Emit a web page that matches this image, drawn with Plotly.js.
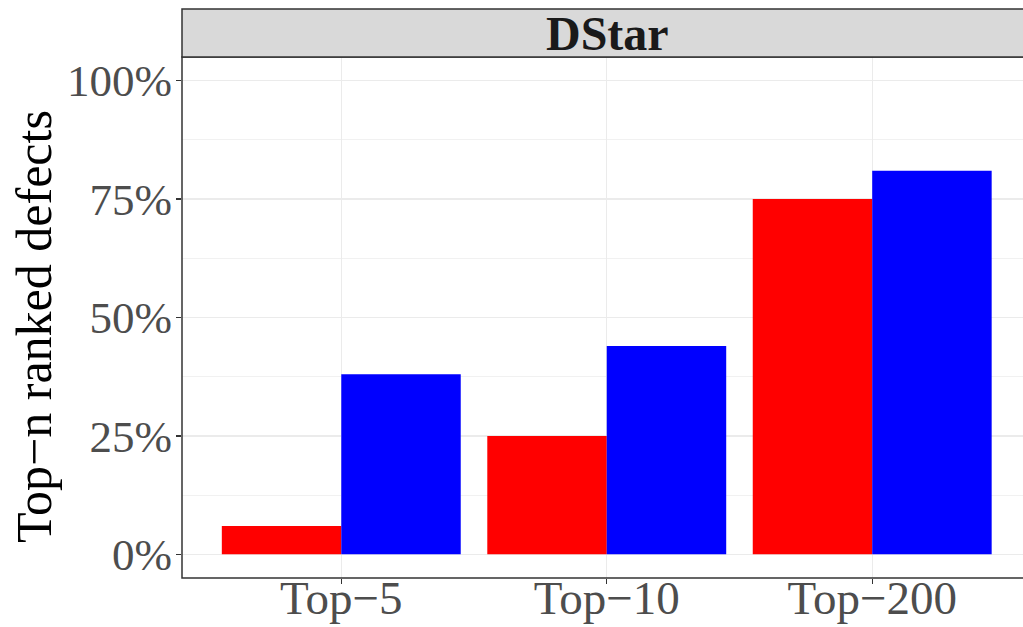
<!DOCTYPE html>
<html>
<head>
<meta charset="utf-8">
<script src="https://cdn.plot.ly/plotly-3.0.1.min.js"></script>
<style>html,body{margin:0;padding:0;background:#fff;}#chart{width:1023px;height:627px;}</style>
</head>
<body>
<div id="chart"></div>
<script>
var categories = ["Top\u22125", "Top\u221210", "Top\u2212200"];
var seriesRed = [0.06, 0.25, 0.75];
var seriesBlue = [0.38, 0.44, 0.81];
var yTickVals = [0, 0.25, 0.5, 0.75, 1.0];
var yTickText = ["0%", "25%", "50%", "75%", "100%"];
var panelTitle = "DStar";
var yTitle = "Top\u2212n ranked defects";

var font = "Liberation Serif, Times New Roman, serif";

var traces = [
  {type: "bar", x: categories, y: seriesRed, marker: {color: "#ff0000", line: {width: 0}}, hoverinfo: "skip", showlegend: false},
  {type: "bar", x: categories, y: seriesBlue, marker: {color: "#0000ff", line: {width: 0}}, hoverinfo: "skip", showlegend: false}
];

var layout = {
  width: 1023, height: 627,
  margin: {l: 182, r: 0, t: 57, b: 49},
  paper_bgcolor: "#ffffff", plot_bgcolor: "#ffffff",
  barmode: "group", bargap: 0.1, bargroupgap: 0,
  showlegend: false,
  font: {family: font, color: "#4d4d4d"},
  xaxis: {
    type: "category",
    range: [-0.6, 2.568],
    showgrid: true, gridcolor: "#ebebeb", gridwidth: 1.2,
    ticks: "outside", ticklen: 5, tickcolor: "#333333", tickwidth: 1.2,
    tickfont: {family: font, size: 47, color: "#4d4d4d"},
    ticklabelstandoff: -26,
    showline: false, zeroline: false
  },
  yaxis: {
    range: [-0.05, 1.05],
    tickvals: yTickVals, ticktext: yTickText,
    showgrid: true, gridcolor: "#ebebeb", gridwidth: 1.2,
    minor: {dtick: 0.125, tick0: 0.125, showgrid: true, gridcolor: "#ebebeb", gridwidth: 0.7, ticks: ""},
    ticks: "outside", ticklen: 5, tickcolor: "#333333", tickwidth: 1.2,
    tickfont: {family: font, size: 45, color: "#4d4d4d"},
    ticklabelstandoff: -5,
    showline: false, zeroline: false
  },
  shapes: [
    {type: "rect", xref: "paper", yref: "paper", x0: 0, x1: 1.05, y0: 0, y1: 1, line: {color: "#333333", width: 1.5}, fillcolor: "rgba(0,0,0,0)", layer: "above"},
    {type: "rect", xref: "paper", yref: "paper", x0: 0, x1: 1.05, y0: 1, y1: 1 + 48/521, line: {color: "#333333", width: 1.5}, fillcolor: "#d9d9d9", layer: "above"}
  ],
  annotations: [
    {text: "<b>" + panelTitle + "</b>", xref: "paper", yref: "paper", x: 0.5054, y: 1 + 24/521, xanchor: "center", yanchor: "middle", showarrow: false, font: {family: font, size: 48, color: "#1a1a1a"}},
    {text: yTitle, xref: "paper", yref: "paper", x: (34 - 182) / 841, y: (578 - 327) / 521, xanchor: "center", yanchor: "middle", textangle: -90, showarrow: false, font: {family: font, size: 50, color: "#000000"}}
  ]
};

Plotly.newPlot("chart", traces, layout, {staticPlot: true, displayModeBar: false});
</script>
</body>
</html>
